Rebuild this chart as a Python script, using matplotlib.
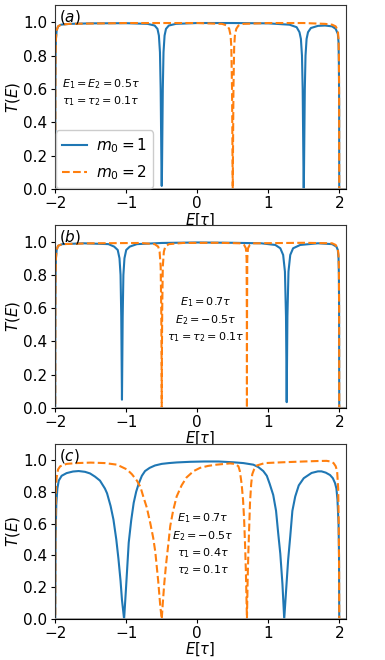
import matplotlib
matplotlib.use("Agg")
import matplotlib.pyplot as plt

# ---------------- data ----------------
# panel (a)
Ea1 = [-2.1, -2.0, -1.998, -1.995, -1.99, -1.98, -1.96, -1.92, -1.8, -1.5, -1.0, -0.7, -0.6,
       -0.56, -0.54, -0.525, -0.515, -0.508, -0.503, -0.5, -0.497, -0.492, -0.485, -0.475,
       -0.46, -0.44, -0.4, -0.3, 0.0, 0.5, 1.0, 1.3, 1.4, 1.44, 1.46, 1.475, 1.485, 1.492,
       1.497, 1.5, 1.503, 1.508, 1.515, 1.525, 1.54, 1.56, 1.6, 1.7, 1.8, 1.9, 1.95, 1.98,
       1.99, 1.995, 1.999, 2.0, 2.1]
Ta1 = [0.0, 0.0, 0.6, 0.8, 0.9, 0.95, 0.975, 0.985, 0.99, 0.993, 0.994, 0.99, 0.98,
       0.96, 0.92, 0.82, 0.6, 0.3, 0.08, 0.02, 0.08, 0.3, 0.6, 0.82,
       0.92, 0.96, 0.98, 0.99, 0.995, 0.995, 0.993, 0.985, 0.97, 0.94, 0.9, 0.8, 0.6, 0.3,
       0.08, 0.0, 0.08, 0.3, 0.6, 0.8, 0.9, 0.94, 0.965, 0.978, 0.98, 0.975, 0.96, 0.93,
       0.88, 0.75, 0.5, 0.0, 0.0]
Ea2 = [-2.1, -2.0, -1.998, -1.995, -1.99, -1.98, -1.96, -1.92, -1.8, -1.0, 0.0, 0.35, 0.42,
       0.45, 0.47, 0.48, 0.49, 0.495, 0.5, 0.505, 0.51, 0.52, 0.53, 0.55, 0.58, 0.65, 1.0,
       1.5, 1.8, 1.9, 1.95, 1.98, 1.99, 1.995, 1.998, 2.0, 2.1]
Ta2 = [0.0, 0.0, 0.6, 0.8, 0.9, 0.95, 0.975, 0.985, 0.99, 0.995, 0.995, 0.99, 0.98,
       0.96, 0.92, 0.85, 0.6, 0.3, 0.0, 0.3, 0.6, 0.85, 0.92, 0.96, 0.98, 0.99, 0.995,
       0.995, 0.99, 0.985, 0.975, 0.95, 0.9, 0.8, 0.6, 0.0, 0.0]

# panel (b)
Eb1 = [-2.1, -2.0, -1.998, -1.995, -1.99, -1.98, -1.96, -1.9, -1.6, -1.25, -1.17, -1.12,
       -1.095, -1.08, -1.07, -1.063, -1.06, -1.057, -1.05, -1.04, -1.025, -1.0, -0.95,
       -0.85, -0.5, 0.0, 0.5, 0.9, 1.1, 1.17, 1.21, 1.235, 1.25, 1.257, 1.26, 1.263, 1.27,
       1.285, 1.31, 1.35, 1.45, 1.7, 1.9, 1.96, 1.98, 1.99, 1.995, 1.998, 2.0, 2.1]
Tb1 = [0.0, 0.0, 0.6, 0.8, 0.9, 0.95, 0.975, 0.985, 0.99, 0.985, 0.97, 0.95,
       0.9, 0.8, 0.55, 0.2, 0.05, 0.2, 0.55, 0.8, 0.9, 0.95, 0.97,
       0.985, 0.992, 0.995, 0.993, 0.99, 0.98, 0.96, 0.92, 0.82, 0.55, 0.2, 0.035, 0.2, 0.55,
       0.82, 0.92, 0.96, 0.98, 0.99, 0.985, 0.97, 0.95, 0.9, 0.8, 0.6, 0.0, 0.0]
Eb2 = [-2.1, -2.0, -1.998, -1.995, -1.99, -1.98, -1.96, -1.9, -1.5, -0.8, -0.6, -0.55,
       -0.53, -0.515, -0.507, -0.502, -0.5, -0.498, -0.493, -0.485, -0.47, -0.45, -0.4,
       -0.2, 0.3, 0.6, 0.66, 0.685, 0.695, 0.699, 0.7, 0.701, 0.705, 0.715, 0.74, 0.8,
       1.5, 1.9, 1.95, 1.98, 1.99, 1.995, 1.998, 2.0, 2.1]
Tb2 = [0.0, 0.0, 0.6, 0.8, 0.9, 0.95, 0.975, 0.985, 0.99, 0.992, 0.985, 0.97,
       0.94, 0.85, 0.6, 0.3, 0.0, 0.3, 0.6, 0.85, 0.94, 0.97, 0.985,
       0.992, 0.993, 0.99, 0.98, 0.96, 0.9, 0.5, 0.0, 0.5, 0.9, 0.96, 0.98, 0.99,
       0.993, 0.99, 0.98, 0.955, 0.92, 0.85, 0.6, 0.0, 0.0]

# panel (c)
Ec1 = [-2.1, -2.0, -1.995, -1.985, -1.97, -1.95, -1.91, -1.84, -1.75, -1.67, -1.58, -1.51,
       -1.44, -1.37, -1.3, -1.27, -1.22, -1.18, -1.14, -1.11, -1.08, -1.06, -1.03, -1.005,
       -0.965, -0.93, -0.895, -0.86, -0.825, -0.78, -0.735, -0.67, -0.595, -0.5, -0.4,
       -0.29, -0.1, 0.1, 0.3, 0.51, 0.65, 0.72, 0.79, 0.86, 0.93, 0.98, 1.02, 1.07, 1.11,
       1.14, 1.17, 1.2, 1.225, 1.25, 1.28, 1.31, 1.34, 1.38, 1.43, 1.5, 1.61, 1.7, 1.75,
       1.81, 1.87, 1.91, 1.94, 1.96, 1.975, 1.99, 1.997, 2.0, 2.1]
Tc1 = [0.0, 0.0, 0.5, 0.72, 0.82, 0.87, 0.9, 0.917, 0.927, 0.93, 0.925, 0.915,
       0.895, 0.87, 0.82, 0.79, 0.71, 0.625, 0.5, 0.38, 0.24, 0.12, 0.0, 0.18,
       0.48, 0.62, 0.73, 0.8, 0.85, 0.9, 0.93, 0.95, 0.965, 0.975, 0.98,
       0.984, 0.988, 0.99, 0.99, 0.985, 0.98, 0.975, 0.97, 0.955, 0.93, 0.9, 0.85, 0.78, 0.68,
       0.54, 0.41, 0.22, 0.0, 0.17, 0.37, 0.52, 0.68, 0.77, 0.84, 0.885, 0.918, 0.928, 0.928,
       0.92, 0.905, 0.885, 0.855, 0.82, 0.75, 0.6, 0.4, 0.0, 0.0]
Ec2 = [-2.1, -2.0, -1.997, -1.99, -1.98, -1.96, -1.93, -1.84, -1.7, -1.5, -1.3, -1.13,
       -0.99, -0.92, -0.85, -0.8, -0.76, -0.71, -0.66, -0.62, -0.59, -0.55, -0.52, -0.5,
       -0.485, -0.465, -0.44, -0.41, -0.38, -0.34, -0.29, -0.22, -0.15, -0.05, 0.04, 0.15,
       0.27, 0.46, 0.53, 0.58, 0.6, 0.625, 0.645, 0.66, 0.675, 0.685, 0.7, 0.71, 0.72,
       0.735, 0.743, 0.76, 0.775, 0.8, 0.84, 0.95, 1.2, 1.5, 1.7, 1.82, 1.88, 1.92, 1.95,
       1.97, 1.985, 1.993, 1.998, 2.0, 2.1]
Tc2 = [0.0, 0.0, 0.6, 0.83, 0.89, 0.94, 0.96, 0.975, 0.98, 0.983, 0.98, 0.97,
       0.94, 0.91, 0.87, 0.83, 0.77, 0.7, 0.6, 0.51, 0.42, 0.24, 0.08, 0.0,
       0.1, 0.22, 0.34, 0.46, 0.585, 0.68, 0.77, 0.84, 0.89, 0.93, 0.95, 0.962,
       0.97, 0.978, 0.975, 0.96, 0.93, 0.85, 0.75, 0.63, 0.45, 0.3, 0.0, 0.25, 0.42,
       0.62, 0.73, 0.85, 0.91, 0.94, 0.965, 0.98, 0.985, 0.99, 0.993, 0.994, 0.99, 0.98, 0.96,
       0.93, 0.82, 0.6, 0.3, 0.0, 0.0]

panel_labels = ["$(a)$", "$(b)$", "$(c)$"]
legend_labels = ["$m_0=1$", "$m_0=2$"]
xticks = [-2, -1, 0, 1, 2]
yticks = [0.0, 0.2, 0.4, 0.6, 0.8, 1.0]
notes = [
    "$E_1=E_2=0.5\\tau$\n$\\tau_1=\\tau_2=0.1\\tau$",
    "$E_1=0.7\\tau$\n$E_2=-0.5\\tau$\n$\\tau_1=\\tau_2=0.1\\tau$",
    "$E_1=0.7\\tau$\n$E_2=-0.5\\tau$\n$\\tau_1=0.4\\tau$\n$\\tau_2=0.1\\tau$",
]

# ---------------- figure ----------------
fig = plt.figure(figsize=(3.85, 6.6), dpi=100)
boxes = [
    [0.1416, 0.7132, 0.758, 0.2785],
    [0.1416, 0.3818, 0.758, 0.2773],
    [0.1416, 0.0620, 0.758, 0.2653],
]
data = [(Ea1, Ta1, Ea2, Ta2), (Eb1, Tb1, Eb2, Tb2), (Ec1, Tc1, Ec2, Tc2)]
blue = "#1f77b4"
orange = "#ff7f0e"

for i, (box, (e1, t1, e2, t2)) in enumerate(zip(boxes, data)):
    ax = fig.add_axes(box)
    ax.plot(e1, t1, color=blue, lw=1.5, label=legend_labels[0])
    ax.plot(e2, t2, color=orange, lw=1.5, ls="--", label=legend_labels[1])
    ax.axhline(0, color="#999999", lw=2.0, zorder=3)
    for s in ("left", "right", "top"):
        ax.spines[s].set_color("#333333")
    ax.set_xlim(-2.01, 2.1)
    ax.set_ylim(0, 1.1)
    ax.set_xticks(xticks)
    ax.set_yticks(yticks)
    ax.tick_params(labelsize=11, length=3, pad=2)
    ax.set_xlabel(r"$E[\tau]$", fontsize=10.5, labelpad=0)
    ax.set_ylabel(r"$T(E)$", fontsize=11, labelpad=1)
    ax.text(0.015, 0.985, panel_labels[i], transform=ax.transAxes,
            ha="left", va="top", fontsize=11)
    if i == 0:
        ax.legend(loc="lower left", fontsize=11, handlelength=1.6,
                  handletextpad=0.6, borderaxespad=0.1, framealpha=1)
        ax.text(-1.9, 0.58, notes[0], fontsize=8, ha="left", va="center",
                linespacing=1.35)
    elif i == 1:
        ax.text(0.12, 0.53, notes[1], fontsize=8, ha="center", va="center",
                linespacing=1.35)
    else:
        ax.text(0.08, 0.47, notes[2], fontsize=8, ha="center", va="center",
                linespacing=1.35)

fig.savefig("out.png", dpi=100)
